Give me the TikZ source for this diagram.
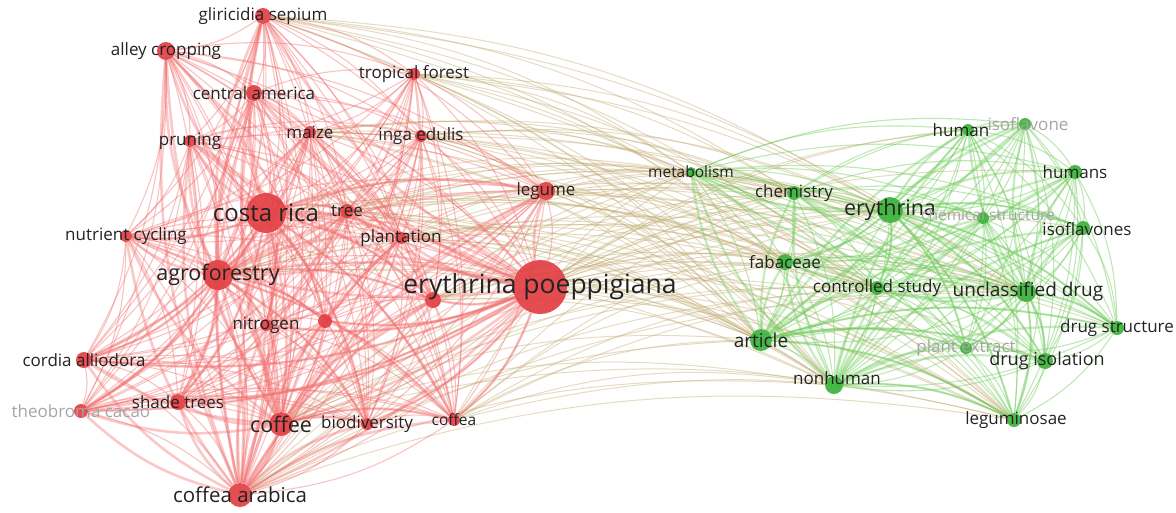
\documentclass[tikz,border=0pt]{standalone}
\usepackage{fontspec}
\setmainfont{Open Sans}
\pgfdeclarelayer{bg}
\pgfsetlayers{bg,main}
\definecolor{redn}{RGB}{226,62,66}
\definecolor{greenn}{RGB}{58,178,58}
\definecolor{rede}{RGB}{242,110,110}
\definecolor{greene}{RGB}{112,204,92}
\definecolor{crosse}{RGB}{192,170,112}
\definecolor{labc}{RGB}{35,35,35}
\definecolor{labg}{RGB}{165,165,165}
\tikzset{
  rn/.style={circle, fill=redn, fill opacity=0.92, minimum size=#1, inner sep=0pt},
  gn/.style={circle, fill=greenn, fill opacity=0.92, minimum size=#1, inner sep=0pt},
  lab/.style={text=labc, font=\fontsize{#1}{#1}\selectfont, inner sep=0pt},
  labgrey/.style={text=labg, font=\fontsize{#1}{#1}\selectfont, inner sep=0pt},
  redge/.style={draw=rede, line width=1.1pt, opacity=0.42},
  redhub/.style={draw=rede, line width=2.6pt, opacity=0.38},
  gedge/.style={draw=greene, line width=1.1pt, opacity=0.45},
  ghub/.style={draw=greene, line width=2.2pt, opacity=0.4},
  xedge/.style={draw=crosse, line width=1pt, opacity=0.42},
}
\begin{document}
\begin{tikzpicture}[x=1pt,y=-1pt]
\useasboundingbox (0,0) rectangle (1176,512);
% red cluster
\node[rn=16pt] (gs) at (263,16) {};
\node[rn=18pt] (ac) at (166,51) {};
\node[rn=16pt] (cam) at (254,93) {};
\node[rn=12pt] (tf) at (414,74) {};
\node[rn=12pt] (pr) at (190,141) {};
\node[rn=12pt] (mz) at (310,132) {};
\node[rn=12pt] (ie) at (421,136) {};
\node[rn=40pt] (cr) at (266,213) {};
\node[rn=14pt] (tr) at (347,211) {};
\node[rn=12pt] (nc) at (126,236) {};
\node[rn=12pt] (pl) at (401,238) {};
\node[rn=18pt] (lg) at (546,191) {};
\node[rn=30pt] (af) at (218,275) {};
\node[rn=54pt] (ep) at (540,287) {};
\node[rn=12pt] (ni) at (266,325) {};
\node[rn=14pt] (ua) at (325,321) {};
\node[rn=16pt] (ub) at (433,300) {};
\node[rn=16pt] (cor) at (84,360) {};
\node[rn=14pt] (tc) at (81,411) {};
\node[rn=16pt] (st) at (178,402) {};
\node[rn=24pt] (cf) at (281,424) {};
\node[rn=12pt] (bd) at (367,424) {};
\node[rn=12pt] (cfa) at (454,420) {};
\node[rn=24pt] (ca) at (240,495) {};
% green cluster
\node[gn=10pt] (met) at (691,172) {};
\node[gn=14pt] (ch) at (794,193) {};
\node[gn=12pt] (hum) at (968,130) {};
\node[gn=12pt] (iso) at (1025,124) {};
\node[gn=14pt] (hums) at (1075,172) {};
\node[gn=26pt] (ery) at (890,210) {};
\node[gn=12pt] (cs) at (983,218) {};
\node[gn=14pt] (isos) at (1083,228) {};
\node[gn=16pt] (fab) at (785,262) {};
\node[gn=14pt] (ctl) at (877,288) {};
\node[gn=20pt] (ud) at (1026,292) {};
\node[gn=22pt] (art) at (761,340) {};
\node[gn=14pt] (ds) at (1117,328) {};
\node[gn=12pt] (pe) at (966,348) {};
\node[gn=16pt] (di) at (1045,361) {};
\node[gn=18pt] (nh) at (834,385) {};
\node[gn=14pt] (leg) at (1014,420) {};
\begin{pgfonlayer}{bg}
\def\redlist{gs,ac,cam,tf,pr,mz,ie,cr,tr,nc,pl,lg,af,ep,ni,ua,ub,cor,tc,st,cf,bd,cfa,ca}
\def\greenlist{met,ch,hum,iso,hums,ery,cs,isos,fab,ctl,ud,art,ds,pe,di,nh,leg}
\foreach \a in {ep,lg,cr,af,tf,ie,pl,tr,ub,cf,ca,cfa,gs,mz} {
  \foreach \b in {ery,art,nh,ud,ch,met,fab,ctl,leg} {
    \draw[xedge] (\a) to[bend left=14] (\b);
  }
}
\foreach \b in {hum,iso,hums,cs,isos,ds,pe,di} {
  \draw[xedge] (ep) to[bend left=14] (\b);
}
\foreach \a [count=\i] in \redlist {
  \foreach \b [count=\j] in \redlist {
    \ifnum\j>\i \draw[redge] (\a) to[bend left=14] (\b); \fi
  }
}
\foreach \a in {cr,af,ep,cf,ca} {
  \foreach \b in {gs,ac,cam,pr,mz,tr,nc,pl,lg,ni,ua,ub,cor,tc,st,bd,cfa} {
    \draw[redhub] (\a) to[bend left=14] (\b);
  }
}
\foreach \a/\b in {cr/af,cr/ep,af/ep,cr/cf,af/cf,cf/ca,cr/ca,ep/cf,ep/ca,af/ca} {
  \draw[redhub] (\a) to[bend left=10] (\b);
}
\foreach \a [count=\i] in \greenlist {
  \foreach \b [count=\j] in \greenlist {
    \ifnum\j>\i \draw[gedge] (\a) to[bend left=14] (\b); \fi
  }
}
\foreach \a in {ery,ud,art,nh} {
  \foreach \b in {met,ch,hum,iso,hums,cs,isos,fab,ctl,ds,pe,di,leg} {
    \draw[ghub] (\a) to[bend left=14] (\b);
  }
}
\end{pgfonlayer}
% labels red
\node[lab=17] (gs-l) at (gs) {gliricidia sepium};
\node[lab=17] (ac-l) at (ac) {alley cropping};
\node[lab=17] (cam-l) at (cam) {central america};
\node[lab=17] (tf-l) at (tf) {tropical forest};
\node[lab=17] (pr-l) at (pr) {pruning};
\node[lab=17] (mz-l) at (mz) {maize};
\node[lab=17] (ie-l) at (ie) {inga edulis};
\node[lab=24] (cr-l) at (cr) {costa rica};
\node[lab=17] (tr-l) at (tr) {tree};
\node[lab=17] (nc-l) at (nc) {nutrient cycling};
\node[lab=17] (pl-l) at (pl) {plantation};
\node[lab=17] (lg-l) at (lg) {legume};
\node[lab=21.5] (af-l) at (af) {agroforestry};
\node[lab=26.5] (ep-l) at (ep) {erythrina poeppigiana};
\node[lab=17] (ni-l) at (ni) {nitrogen};
\node[lab=17] (cor-l) at (cor) {cordia alliodora};
\node[labgrey=17] (tc-l) at (tc) {theobroma cacao};
\node[lab=17] (st-l) at (st) {shade trees};
\node[lab=21.5] (cf-l) at (cf) {coffee};
\node[lab=17] (bd-l) at (bd) {biodiversity};
\node[lab=15.5] (cfa-l) at (cfa) {coffea};
\node[lab=20.5] (ca-l) at (ca) {coffea arabica};
% labels green
\node[lab=15.5] (met-l) at (met) {metabolism};
\node[lab=17] (ch-l) at (ch) {chemistry};
\node[lab=17] (hum-l) at (961,130) {human};
\node[labgrey=17] (iso-l) at (1028,124) {isoflavone};
\node[lab=17] (hums-l) at (hums) {humans};
\node[lab=21.5] (ery-l) at (ery) {erythrina};
\node[labgrey=15.5] (cs-l) at (988,215) {chemical structure};
\node[lab=17] (isos-l) at (1087,229) {isoflavones};
\node[lab=17] (fab-l) at (fab) {fabaceae};
\node[lab=17] (ctl-l) at (ctl) {controlled study};
\node[lab=19] (ud-l) at (1028,292) {unclassified drug};
\node[lab=19] (art-l) at (art) {article};
\node[lab=17] (ds-l) at (ds) {drug structure};
\node[labgrey=17] (pe-l) at (pe) {plant extract};
\node[lab=18] (di-l) at (1047,361) {drug isolation};
\node[lab=17] (nh-l) at (837,378) {nonhuman};
\node[lab=17] (leg-l) at (1016,420) {leguminosae};
\end{tikzpicture}
\end{document}
